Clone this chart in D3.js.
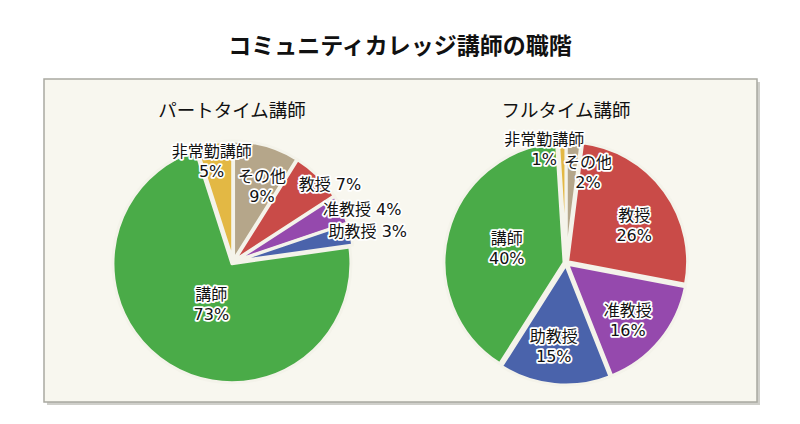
<!DOCTYPE html>
<html><head><meta charset="utf-8">
<script src="https://cdn.jsdelivr.net/npm/d3@7"></script>
<style>
body{margin:0;background:#fff;}
text{font-family:"DejaVu Sans","Noto Sans CJK JP",sans-serif;}
</style></head>
<body><svg id="c" width="800" height="424"></svg>
<script>
// ---- data ----
const categories = ["その他","教授","准教授","助教授","講師","非常勤講師"];
const partTimeValues = [9,7,4,3,73,5];
const fullTimeValues = [2,26,16,15,40,1];
const pieTitles = ["パートタイム講師","フルタイム講師"];
const chartTitle = "コミュニティカレッジ講師の職階";

// ---- styles / layout ----
const colors = ["#b5a68a","#c94b48","#9549ad","#4a63ab","#4aab48","#e3b844"];
const svg = d3.select("#c");

// panel with shadow
svg.append("rect").attr("x",47).attr("y",82).attr("width",713).attr("height",323).attr("fill","#cfcfca");
svg.append("rect").attr("x",44).attr("y",79).attr("width",713).attr("height",323)
  .attr("fill","#f8f7ef").attr("stroke","#a9a9a1").attr("stroke-width",1.5);

svg.append("text").attr("x",400).attr("y",54).attr("text-anchor","middle")
  .attr("font-size",23).attr("font-weight","bold").attr("fill","#111").text(chartTitle);

// label layout: [radiusFactor, angleShiftDeg, lines]
const pies = [
  {cx:233, cy:262, r:119, values:partTimeValues, title:pieTitles[0], tx:232,
   labels:[[0.68,5,2],[1.04,7,1],[1.17,4,1],[1.16,1,1],[0.40,-5,2],[0.87,-3,2]]},
  {cx:566, cy:263, r:120, values:fullTimeValues, title:pieTitles[1], tx:566,
   labels:[[0.78,10,2],[0.65,7,2],[0.70,3,2],[0.70,3,2],[0.51,0,2],[0.97,-9,2]]}
];

pies.forEach(p => {
  const g = svg.append("g").attr("transform",`translate(${p.cx},${p.cy})`);
  const arcs = d3.pie().sort(null).value(d=>d)(p.values);
  const arc = d3.arc().innerRadius(0).outerRadius(p.r);
  g.selectAll("path").data(arcs).join("path")
    .attr("transform", d => {
      const a = (d.startAngle+d.endAngle)/2, e = 2;
      return `translate(${Math.sin(a)*e},${-Math.cos(a)*e})`;
    })
    .attr("d", arc).attr("fill",(d,i)=>colors[i])
    .attr("stroke","#f4f3ea").attr("stroke-width",3).attr("stroke-linejoin","round");

  svg.append("text").attr("x",p.tx).attr("y",117).attr("text-anchor","middle")
    .attr("font-size",18.5).attr("fill","#111").text(p.title);

  arcs.forEach((d,i) => {
    const [k, shift, lines] = p.labels[i];
    const a = (d.startAngle+d.endAngle)/2 + shift*Math.PI/180;
    const x = Math.sin(a)*p.r*k, y = -Math.cos(a)*p.r*k;
    const pct = d.data + "%";
    const t = g.append("text").attr("text-anchor","middle").attr("font-size",16)
      .attr("fill","#111").attr("stroke","#fff").attr("stroke-width",3.5)
      .attr("stroke-linejoin","round").attr("paint-order","stroke");
    if (lines === 2) {
      t.append("tspan").attr("x",x).attr("y",y-4).text(categories[i]);
      t.append("tspan").attr("x",x).attr("y",y+16).text(pct);
    } else {
      t.attr("x",x).attr("y",y+5).text(categories[i]+" "+pct);
    }
  });
});
</script></body></html>
